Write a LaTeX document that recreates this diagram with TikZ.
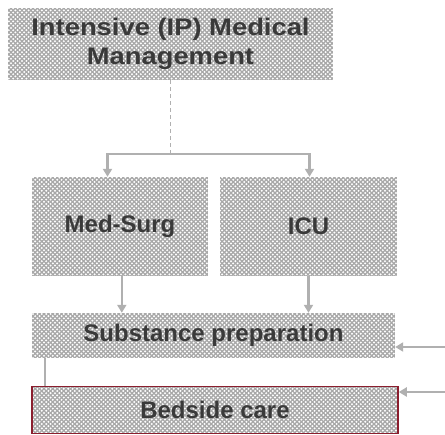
\documentclass[tikz,border=0pt]{standalone}
\usepackage{fontspec}
\setmainfont{Liberation Sans}
\usetikzlibrary{patterns,arrows.meta,calc}
\definecolor{boxgray}{HTML}{A8A8A8}
\definecolor{linegray}{HTML}{B0B0B0}
\definecolor{txtgray}{HTML}{3A3A3A}
\definecolor{bedred}{HTML}{8B1E2E}
\pgfdeclarepatternformonly{bigdots}{\pgfqpoint{-1pt}{-1pt}}{\pgfqpoint{5pt}{5pt}}{\pgfqpoint{4.4pt}{4.4pt}}{%
  \pgfpathcircle{\pgfqpoint{0pt}{0pt}}{1.1pt}%
  \pgfpathcircle{\pgfqpoint{2.2pt}{2.2pt}}{1.1pt}%
  \pgfusepath{fill}}
\tikzset{
  boxfill/.style={preaction={fill=boxgray}, pattern=bigdots, pattern color=white,
    inner sep=0pt, text=txtgray, font=\fontsize{24}{29}\selectfont\bfseries},
  conn/.style={draw=linegray, line width=2.6pt},
  arr/.style={conn, -{Triangle[length=8pt,width=9pt]}},
}
\begin{document}
\begin{tikzpicture}[x=1pt,y=-1pt]
\useasboundingbox (0,0) rectangle (445,435);
\node[boxfill, minimum width=325pt, minimum height=72pt, align=center] (top) at (170.5,44)
  {\scalebox{1.14}[1]{Intensive (IP) Medical}\\[0pt]\scalebox{1.14}[1]{Management}};
\node[boxfill, minimum width=176pt, minimum height=99pt] (med) at (120,226.5) {Med-Surg};
\node[boxfill, minimum width=177pt, minimum height=99pt] (icu) at (308.5,226.5) {ICU};
\node[boxfill, minimum width=363pt, minimum height=45pt] (sub) at (213.5,335.5) {Substance preparation};
\node[boxfill, draw=bedred, line width=1.5pt, minimum width=366pt, minimum height=47pt] (bed) at (215,410) {Bedside care};
\coordinate (barL) at (107.5,154);
\coordinate (barR) at (309.5,154);
\coordinate (inA) at (445,347);
\coordinate (inB) at (445,392);
\draw[draw=linegray, line width=1.2pt, dash pattern=on 4pt off 3pt] (top.south) -- (top.south |- barL);
\draw[conn] ([xshift=-1.3pt]barL) -- ([xshift=1.3pt]barR);
\draw[arr] (barL) -- (barL |- med.north);
\draw[arr] (barR) -- (barR |- icu.north);
\draw[arr] ([xshift=90pt]med.south west) -- ([xshift=90pt]med.south west |- sub.north);
\draw[arr] (icu.south) -- (icu.south |- sub.north);
\draw[conn] ([xshift=13pt]sub.south west) -- ([xshift=13pt]sub.south west |- bed.north);
\draw[arr] (inA) -- (inA -| sub.east);
\draw[arr] (inB) -- (inB -| bed.east);
\end{tikzpicture}
\end{document}
